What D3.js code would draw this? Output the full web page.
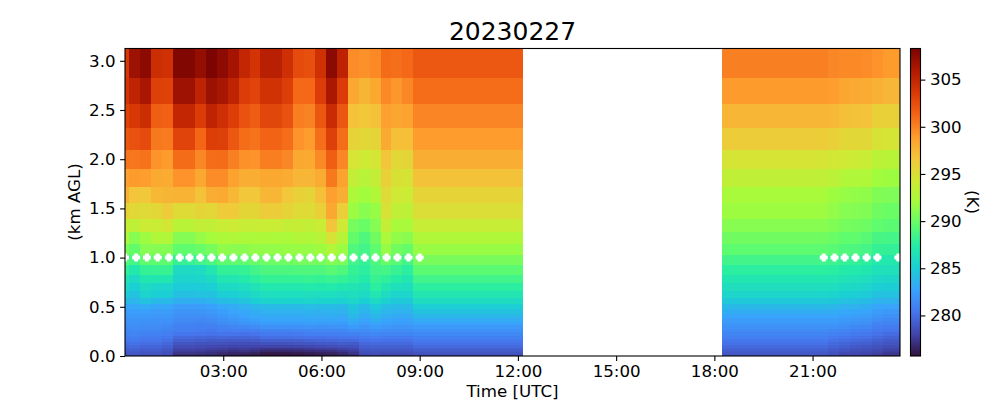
<!DOCTYPE html>
<html><head><meta charset="utf-8">
<style>html,body{margin:0;padding:0;background:#fff}svg{display:block}text{font-family:"DejaVu Sans";fill:#000}</style>
<script src="https://cdnjs.cloudflare.com/ajax/libs/d3/7.8.5/d3.min.js"></script>
</head><body><svg id="c" width="1000" height="400"></svg>
<script>
const chartTitle = "20230227";
const xTickHours = [3,6,9,12,15,18,21];
const yTicksKm = [0,0.5,1,1.5,2,2.5,3];
const cbTicks = [280,285,290,295,300,305];
const turboColors = ["#30123b","#4145ab","#4675ed","#39a2fc","#1bcfd4","#24eca6","#61fc6c","#a4fc3c","#d1e834","#f3c63a","#fe9b2d","#f36315","#d93806","#b11901","#7a0403"];
// row edges, km AGL, top to bottom
const heightEdges = [3.125,2.83,2.56,2.32,2.09,1.90,1.72,1.55,1.39,1.26,1.14,1.03,.92,.82,.74,.66,.59,.53,.48,.43,.39,.35,.31,.27,.24,.2,.17,.14,.11,.08,.06,.04,.02,0];
// column edges, hours UTC: [start,end]
const timeSpans = [[0,.13],[.13,.47],[.47,.8],[.8,1.14],[1.14,1.47],[1.47,2.15],[2.15,2.48],[2.48,2.82],[2.82,3.15],[3.15,3.49],[3.49,3.82],[3.82,4.13],[4.13,4.8],[4.8,5.14],[5.14,5.47],[5.47,5.81],[5.81,6.14],[6.14,6.48],[6.48,6.81],[6.81,7.15],[7.15,7.49],[7.49,7.82],[7.82,8.13],[8.13,8.46],[8.46,8.8],[8.8,12.16],[18.23,21.46],[21.46,21.8],[21.8,22.13],[22.13,22.47],[22.47,22.81],[22.81,23.14],[23.14,23.67]];
// temperature (K) per column, top row to bottom row
const tempColumns = [
[303.7,304,303.1,302,300.6,298.6,297.8,295.9,293.7,292.4,290.6,289.2,287.9,286.5,285.8,284.8,283.9,282.9,282.4,282.1,281.9,281.7,281.5,281.3,281,280.7,280.4,280,279.6,279.3,279,278.8,278.6],
[306.8,305.2,303.7,302.3,300.5,299,296.7,295.4,293.3,291,289.7,288.6,287,285.8,285.1,284.4,283.7,283,282.5,282.2,282,281.8,281.6,281.4,281.2,280.9,280.6,280.2,279.8,279.5,279.2,279,278.8],
[307.6,306.3,304.4,302.6,300.7,298.8,296.5,295.3,294,291.8,291,289.6,288,286.9,285.9,285.4,284.4,283.2,282.6,282.2,281.9,281.7,281.5,281.3,281,280.7,280.4,280,279.6,279.3,279,278.8,278.6],
[304.4,303.2,301.6,300.4,299.3,298.2,297.4,295.5,293.9,292.6,290.9,289.5,288.1,286.9,285.5,285,283.9,282.9,282.4,282.1,281.9,281.7,281.5,281.3,281,280.7,280.4,280,279.6,279.3,279,278.8,278.6],
[304.2,303.1,301.5,300.3,299,298.1,297.6,296.3,294.4,292.6,290.9,289.5,288.1,286.9,285.5,285,283.9,282.9,282.4,282.1,281.9,281.6,281.4,281.1,280.8,280.5,280.1,279.7,279.3,279,278.7,278.5,278.3],
[308,306.8,305,303,301,299.3,297.7,295.2,293.1,290.9,289.6,288,285.8,285.4,284.8,284.2,283.3,282.4,282,281.7,281.5,281.2,281,280.8,280.4,279.8,279.3,278.8,278.4,278,277.7,277.3,277],
[307.2,305.2,303.5,301.2,299.8,298.3,296.9,295.7,293.6,291.5,289.9,288.5,286,285.5,284.8,284.3,283.3,282.4,282,281.7,281.4,281.1,280.9,280.7,280.3,279.7,279.2,278.7,278.3,277.9,277.6,277.2,276.9],
[308.2,306.9,305.2,303.3,300.9,299.6,298,295.5,293.4,292,290.4,288.9,286.8,285.9,285,284.4,283.6,282.6,282.2,281.8,281.5,281.2,280.9,280.6,280.2,279.6,279.1,278.6,278.2,277.8,277.4,277.1,276.8],
[307.5,306.3,304.3,303.2,301,299.6,298.2,296.4,293.9,292.5,291.3,289.5,287.9,286.8,285.8,285,284,283,282.5,282.1,281.8,281.5,281.1,280.8,280.3,279.7,279.1,278.6,278.1,277.7,277.3,276.9,276.6],
[306.5,305.2,303.3,301.9,300.1,298.6,297.4,296.4,294,292.6,291.1,289.5,287.9,286.8,285.8,285,284.2,283.2,282.8,282.4,282.1,281.7,281.3,280.8,280.3,279.6,279,278.5,278,277.5,277.1,276.7,276.4],
[305,303.4,302.2,300.9,299.4,298,296.6,295.6,293.8,292.5,291.1,289.6,288,287.2,286.1,285.4,284.5,283.5,283,282.7,282.3,281.9,281.4,280.8,280.2,279.6,279,278.5,278,277.6,277.2,276.7,276.2],
[304,303,301.7,300.7,299.3,298,296.6,295.6,293.8,292.4,291.4,289.9,288.5,287.6,286.5,285.8,285,283.8,283.3,283,282.6,282.1,281.5,280.9,280.3,279.7,279.1,278.5,278,277.5,277,276.5,276.1],
[305.5,304.1,302.9,301.3,300.2,298.3,297.5,296.2,293.9,292.5,291.4,290.1,288.9,288,287,286.1,285.4,284,283.5,283.1,282.8,282.3,281.8,281.1,280.6,280,279.3,278.7,278,277.2,276.7,276.1,275.8],
[304.3,303.3,302.3,300.9,299.8,298.1,296.6,295.8,293.6,292.4,291.6,290.2,288.9,288,287,286.1,285.3,284,283.5,283.1,282.8,282.3,281.8,281.1,280.6,280,279.3,278.7,278,277.2,276.7,276.1,275.8],
[302.6,301.1,300.2,299.3,298.3,297.5,295.9,295.2,293.7,292.7,291.6,290.4,289,288,287,286.1,285.3,284,283.5,283.1,282.8,282.3,281.8,281.2,280.7,280.1,279.4,278.8,278.1,277.3,276.8,276.2,275.9],
[302.4,301.1,300,298.9,298.2,297.5,295.7,295.2,293.6,292.6,291.5,290.4,289,288.1,287.1,286.2,285.5,284.1,283.6,283.2,282.9,282.4,281.9,281.3,280.8,280.2,279.5,278.9,278.2,277.5,276.9,276.3,276],
[304.2,303.4,302,300.8,299.7,298.1,297,296,293.9,293,291.8,290.4,289,288,287,286.1,285.3,284,283.5,283.1,282.8,282.3,281.8,281.3,280.8,280.2,279.6,279,278.3,277.6,277,276.5,276.2],
[307.6,306.2,304.6,303.2,301.6,300.4,298.7,298.3,296.7,294.8,292.6,290.9,289.3,288.2,287.1,286.1,285.3,284,283.6,283.2,282.9,282.4,281.9,281.4,280.9,280.3,279.7,279.1,278.4,277.7,277.1,276.6,276.3],
[305.3,303.5,302,300.9,299.8,298.6,298,296.1,294.2,293,291.7,290.6,289,288,286.9,286,285.2,283.9,283.5,283.1,282.8,282.3,281.9,281.4,280.9,280.4,279.8,279.2,278.6,277.9,277.4,276.9,276.6],
[299.6,298.3,296.8,295.8,294.6,293.6,292.5,291.7,290.4,289.7,289,288.5,288,287.6,286.7,286.2,285.6,284.6,284.2,283.8,283.3,282.8,282.3,281.6,281,280.4,279.8,279.1,278.6,278.1,277.7,277.3,277],
[299.4,297.6,296.5,295.5,294.1,293,291.9,291,289.9,289,288.5,288,287.6,287.2,286.4,285.8,285.1,284,283.6,283.2,282.8,282.4,282,281.6,281.2,280.7,280.2,279.7,279.3,279,278.7,278.5,278.2],
[299.7,298.3,296.9,295.7,294.5,293.6,292.6,291.5,290.9,290.2,289.5,288.9,288.5,288.1,287.6,286.8,285.8,284.8,284.3,283.8,283.3,282.8,282.3,281.8,281.3,280.8,280.3,279.8,279.4,279.1,278.8,278.6,278.3],
[301,299.7,298.7,298.2,296.7,296,295.3,294.8,293.7,292.4,291.5,290,288.6,287.8,286.9,286,285.2,284.2,283.7,283.3,282.9,282.5,282.1,281.7,281.2,280.7,280.2,279.8,279.4,279.1,278.8,278.5,278.2],
[300.8,299.2,298.4,297,295.5,294.9,294.2,293.5,292.2,291.4,290.3,289.3,288.1,287.3,286.3,285.5,284.7,284,283.5,283.1,282.7,282.4,282,281.6,281.2,280.7,280.2,279.8,279.4,279.1,278.8,278.5,278.2],
[301.1,299.8,298.6,297,295.7,294.7,294,293.3,292.2,291.1,289.8,288.5,287.6,286.9,286.1,285.5,284.7,284,283.5,283.1,282.7,282.4,282,281.6,281.2,280.7,280.2,279.8,279.4,279.1,278.8,278.5,278.2],
[301.9,300.9,299.9,298.9,298,296.9,295.8,295,293.8,292.6,291.6,290.5,289.4,288.5,287.6,286.8,286,285,284.4,283.8,283.2,282.7,282.2,281.8,281.4,281,280.6,280.2,279.8,279.4,279.1,278.8,278.5],
[300.1,299,297.5,296.2,294.6,293.4,292.2,291.8,291,290.2,289.5,288.5,287.6,286.9,286.2,285.5,284.7,283.9,283.3,282.8,282.4,282.1,281.8,281.5,281.2,280.9,280.5,280.2,279.8,279.5,279.2,279,278.8],
[299.8,298.8,297.4,296,294.4,293.2,291.8,291.4,290.8,290,289.3,288.3,287.5,286.8,286.1,285.4,284.6,283.8,283.2,282.8,282.4,282.1,281.8,281.4,281,280.6,280.2,279.8,279.5,279.2,278.9,278.7,278.5],
[299.7,298.4,297,295.5,294.2,292.7,291.5,291,290.4,289.6,289,288,287.2,286.5,285.8,285.1,284.3,283.5,283,282.6,282.2,281.9,281.6,281.2,280.8,280.4,280,279.6,279.3,278.9,278.6,278.3,278.1],
[299.7,298.2,296.9,295.5,294,292.6,291.4,290.9,290.3,289.6,288.9,287.9,287.1,286.4,285.7,285,284.2,283.5,282.9,282.5,282.1,281.8,281.4,281,280.6,280.2,279.8,279.4,279,278.7,278.4,278.2,278],
[299.6,298.1,296.8,295.4,293.9,292.6,291.3,290.8,290.1,289.3,288.6,287.7,286.9,286.2,285.5,284.8,284,283.3,282.8,282.4,282,281.7,281.3,280.9,280.5,280.1,279.7,279.3,278.9,278.6,278.3,278.1,277.9],
[299.3,297.8,296,294.8,293.2,291.9,290.8,290.2,289.6,288.7,288,287.1,286.4,285.7,285,284.4,283.6,282.9,282.4,282,281.6,281.2,280.9,280.6,280.2,279.8,279.4,279,278.7,278.4,278.1,277.9,277.6],
[299,297.5,296,294.6,293.1,291.8,290.7,290,289.4,288.6,287.9,287,286.3,285.6,284.9,284.3,283.5,282.8,282.2,281.8,281.4,281.1,280.7,280.4,279.9,279.5,279.1,278.8,278.4,278.1,277.8,277.5,277.3]
];
// white marker times, hours UTC, at 1 km
const markerHours = [0,.34,.67,1.0,1.34,1.67,1.97,2.3,2.64,2.97,3.31,3.65,3.98,4.32,4.66,4.99,5.33,5.66,5.97,6.31,6.64,6.98,7.32,7.65,7.99,8.32,8.66,9.0,21.34,21.67,21.98,22.31,22.65,22.98,23.62];
const markerKm = 1.0;
const tempMin = 275.7, tempMax = 308.3, hourMax = 23.67, kmMax = 3.125;

const svg = d3.select("#c");
const L=125,R=900,T=48.5,B=356, CL=910.5, CR=920.5;
const x = d3.scaleLinear().domain([0,hourMax]).range([L,R]);
const y = d3.scaleLinear().domain([0,kmMax]).range([B,T]);
const cy = d3.scaleLinear().domain([tempMin,tempMax]).range([B,T]);
const color = d3.scaleLinear()
  .domain(turboColors.map((c,i)=>tempMin+(tempMax-tempMin)*i/(turboColors.length-1)))
  .range(turboColors).interpolate(d3.interpolateRgb);

const defs = svg.append("defs");
defs.append("clipPath").attr("id","plot").append("rect").attr("x",L).attr("y",T).attr("width",R-L).attr("height",B-T);
const grad = defs.append("linearGradient").attr("id","cb").attr("x1",0).attr("x2",0).attr("y1",1).attr("y2",0);
turboColors.forEach((c,i)=>grad.append("stop").attr("offset",i/(turboColors.length-1)).attr("stop-color",c));

const cells = tempColumns.flatMap((col,i)=>col.map((v,j)=>({t0:timeSpans[i][0],t1:timeSpans[i][1],h0:heightEdges[j],h1:heightEdges[j+1],v})));
const plot = svg.append("g").attr("clip-path","url(#plot)");
plot.selectAll("rect.cell").data(cells).join("rect").attr("class","cell")
  .attr("x",d=>x(d.t0)).attr("width",d=>x(d.t1)-x(d.t0))
  .attr("y",d=>y(d.h0)).attr("height",d=>y(d.h1)-y(d.h0))
  .attr("fill",d=>color(d.v)).attr("shape-rendering","crispEdges");
// thick "filled plus" marker symbol
const filledPlus = {draw(ctx,size){
  const o=Math.sqrt(size)/2, a=o/2, c=o*0.25;
  ctx.moveTo(-a,-o+c/2);ctx.lineTo(-a+c/2,-o);ctx.lineTo(a-c/2,-o);ctx.lineTo(a,-o+c/2);ctx.lineTo(a,-a);
  ctx.lineTo(o-c/2,-a);ctx.lineTo(o,-a+c/2);ctx.lineTo(o,a-c/2);ctx.lineTo(o-c/2,a);ctx.lineTo(a,a);
  ctx.lineTo(a,o-c/2);ctx.lineTo(a-c/2,o);ctx.lineTo(-a+c/2,o);ctx.lineTo(-a,o-c/2);ctx.lineTo(-a,a);
  ctx.lineTo(-o+c/2,a);ctx.lineTo(-o,a-c/2);ctx.lineTo(-o,-a+c/2);ctx.lineTo(-o+c/2,-a);ctx.lineTo(-a,-a);ctx.closePath();
}};
plot.selectAll("path.mk").data(markerHours).join("path").attr("class","mk")
  .attr("d",d3.symbol(filledPlus,64))
  .attr("transform",d=>`translate(${x(d)},${y(markerKm)})`).attr("fill","#fff");

function styleAxis(g){
  g.selectAll("text").style("font-family",'"DejaVu Sans"').style("font-size","16.67px").attr("fill","#000");
  g.selectAll("line").attr("stroke","#000").attr("stroke-width",1.1);
  g.select(".domain").remove();
}
const pad2 = n=>String(n).padStart(2,"0")+":00";
svg.append("g").attr("transform",`translate(0,${B})`)
  .call(d3.axisBottom(x).tickValues(xTickHours).tickFormat(pad2).tickSize(4.9).tickPadding(4.5)).call(styleAxis);
svg.append("g").attr("transform",`translate(${L},0)`)
  .call(d3.axisLeft(y).tickValues(yTicksKm).tickFormat(d3.format(".1f")).tickSize(4.9).tickPadding(4.5)).call(styleAxis);
svg.append("rect").attr("x",L).attr("y",T).attr("width",R-L).attr("height",B-T).attr("fill","none").attr("stroke","#000").attr("stroke-width",1.1);

svg.append("rect").attr("x",CL).attr("y",T).attr("width",CR-CL).attr("height",B-T).attr("fill","url(#cb)").attr("stroke","#000").attr("stroke-width",1.1);
svg.append("g").attr("transform",`translate(${CR},0)`)
  .call(d3.axisRight(cy).tickValues(cbTicks).tickFormat(d3.format("d")).tickSize(4.9).tickPadding(4.5)).call(styleAxis);

svg.append("text").attr("x",512.5).attr("y",40).attr("text-anchor","middle").style("font-size","25px").text(chartTitle);
svg.append("text").attr("x",512.5).attr("y",396.5).attr("text-anchor","middle").style("font-size","16.67px").text("Time [UTC]");
svg.append("text").attr("transform","translate(80,202) rotate(-90)").attr("text-anchor","middle").style("font-size","16.67px").text("(km AGL)");
svg.append("text").attr("transform","translate(967,202) rotate(90)").attr("text-anchor","middle").style("font-size","16.67px").text("(K)");
</script></body></html>
